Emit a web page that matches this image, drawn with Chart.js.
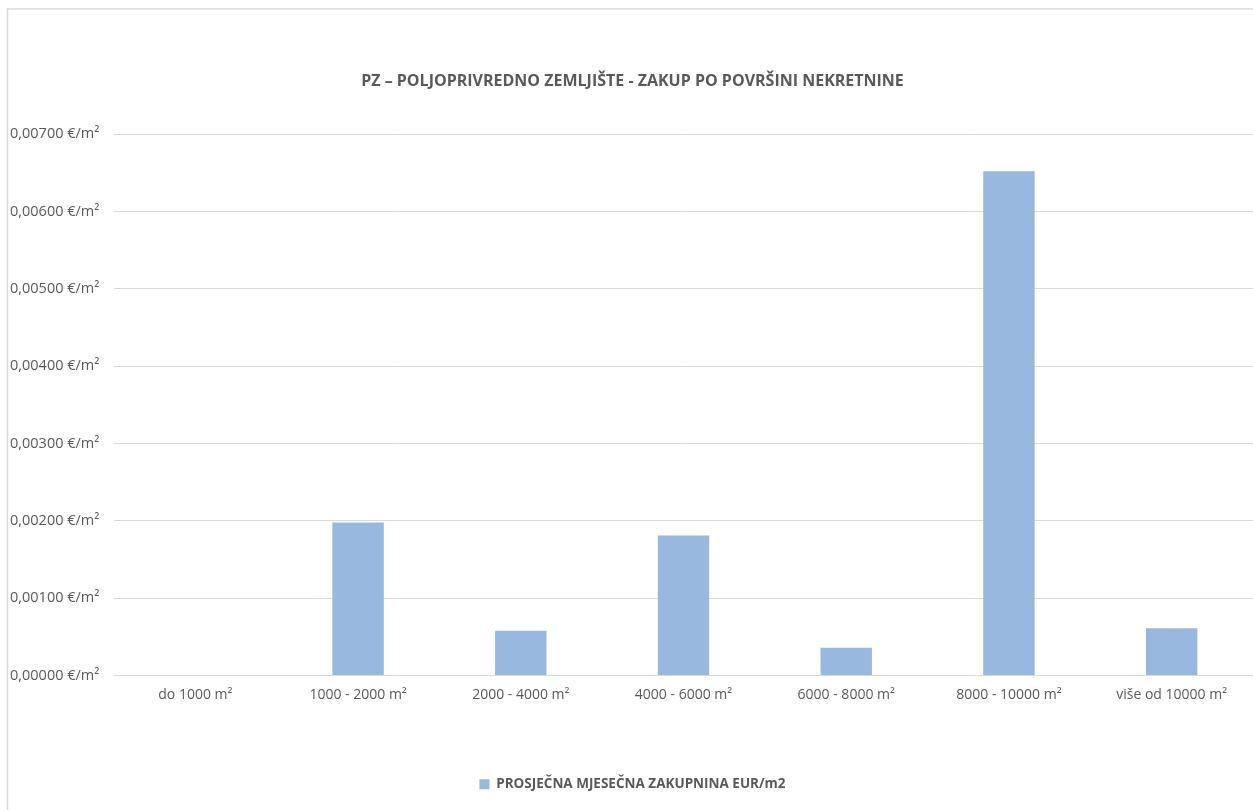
<!DOCTYPE html>
<html>
<head>
<meta charset="utf-8">
<title>PZ – zakup po površini nekretnine</title>
<script src="https://cdn.jsdelivr.net/npm/chart.js@4/dist/chart.umd.min.js"></script>
<style>
  html, body { margin: 0; padding: 0; background: #fff; overflow: hidden; }
  #wrap { position: relative; width: 1253px; height: 810px; }
</style>
</head>
<body>
<div id="wrap"><canvas id="chart"></canvas></div>
<script>
// ── Data ──
const categories = [
  'do 1000 m²', '1000 - 2000 m²', '2000 - 4000 m²', '4000 - 6000 m²',
  '6000 - 8000 m²', '8000 - 10000 m²', 'više od 10000 m²',
];
const avgRent = [0, 0.00198, 0.00058, 0.00181, 0.00036, 0.00652, 0.00061];
const seriesLabel = 'PROSJEČNA MJESEČNA ZAKUPNINA EUR/m2';
const chartTitle = 'PZ – POLJOPRIVREDNO ZEMLJIŠTE - ZAKUP PO POVRŠINI NEKRETNINE';

const TEXT = '#595959';
const GRID = '#d9d9d9';
const BAR = '#98b8df';
const FONT = '"Open Sans", Lato, sans-serif';

// ── Frame lines (chart box is cropped on the right and bottom) ──
const framePlugin = {
  id: 'frame',
  beforeDraw(chart) {
    const { ctx, width, height } = chart;
    ctx.save();
    ctx.strokeStyle = GRID;
    ctx.lineWidth = 1.5;
    ctx.beginPath();
    ctx.moveTo(7.5, height);
    ctx.lineTo(7.5, 9);
    ctx.lineTo(width, 9);
    ctx.stroke();
    ctx.restore();
  },
};

const fmtEur = v => v.toFixed(5).replace('.', ',') + ' €/m²';

new Chart(document.getElementById('chart'), {
  type: 'bar',
  data: {
    labels: categories,
    datasets: [{
      label: seriesLabel,
      data: avgRent,
      backgroundColor: BAR,
      borderWidth: 0,
      categoryPercentage: 1,
      barPercentage: 0.316,
    }],
  },
  options: {
    responsive: true, maintainAspectRatio: false,
    animation: false,
    layout: { padding: { left: 10, right: -2, top: 0, bottom: 9 } },
    plugins: {
      title: {
        display: true, text: chartTitle, color: TEXT,
        font: { family: FONT, size: 16, weight: 'bold' },
        padding: { top: 72, bottom: 43 },
      },
      legend: {
        position: 'bottom',
        labels: {
          color: TEXT, boxWidth: 10, boxHeight: 10, padding: 10,
          font: { family: FONT, size: 13.5, weight: 'bold' },
        },
      },
      tooltip: { enabled: false },
    },
    scales: {
      x: {
        grid: { display: false, drawTicks: false },
        border: { display: false },
        ticks: { color: TEXT, font: { family: FONT, size: 14 }, padding: 11, maxRotation: 0 },
        afterFit(scale) { scale.height = 92; },
      },
      y: {
        min: 0, max: 0.007,
        grid: { color: GRID, lineWidth: 1, drawTicks: false },
        border: { display: false },
        ticks: {
          stepSize: 0.001, color: TEXT, crossAlign: 'far',
          font: { family: FONT, size: 14.5 },
          callback: v => fmtEur(v),
        },
        afterFit(scale) { scale.width = 104; },
      },
    },
  },
  plugins: [framePlugin],
});
</script>
</body>
</html>
